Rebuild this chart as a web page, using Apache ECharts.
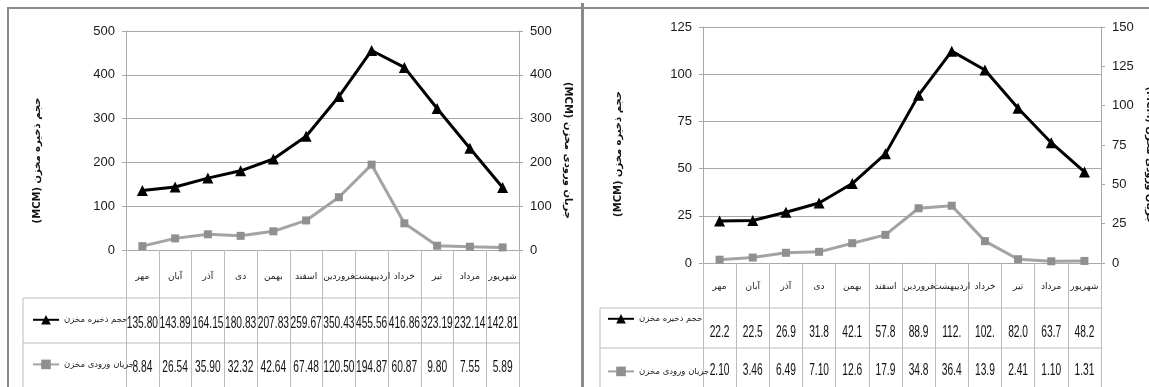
<!DOCTYPE html>
<html>
<head>
<meta charset="utf-8">
<script src="https://cdn.jsdelivr.net/npm/echarts@6/dist/echarts.min.js"></script>
<style>
  html, body { margin: 0; padding: 0; background: #fff; }
  body { width: 1149px; height: 387px; position: relative; overflow: hidden; }
  #left { position: absolute; left: 0; top: 0; width: 583px; height: 387px; }
  #right { position: absolute; left: 583px; top: 0; width: 566px; height: 387px; }
  .rule { position: absolute; background: #8a8a8a; z-index: 5; }
</style>
</head>
<body>
<div id="left"></div>
<div id="right"></div>
<div class="rule" style="left:7px;top:7px;width:1142px;height:2px"></div>
<div class="rule" style="left:7px;top:7px;width:2px;height:380px"></div>
<div class="rule" style="left:581px;top:3px;width:3px;height:384px"></div>
<script>
// ماه‌ها (سال آبی)
const months = ['مهر', 'آبان', 'آذر', 'دی', 'بهمن', 'اسفند', 'فروردین', 'اردیبهشت', 'خرداد', 'تیر', 'مرداد', 'شهریور'];

// نمودار چپ
const storageA = [135.80, 143.89, 164.15, 180.83, 207.83, 259.67, 350.43, 455.56, 416.86, 323.19, 232.14, 142.81];
const inflowA = [8.84, 26.54, 35.90, 32.32, 42.64, 67.48, 120.50, 194.87, 60.87, 9.80, 7.55, 5.89];
const leftAxisA = [0, 500, 100];
const rightAxisA = [0, 500, 100];

// نمودار راست
const storageB = [22.2, 22.5, 26.9, 31.8, 42.1, 57.8, 88.9, 112.2, 102.2, 82.0, 63.7, 48.2];
const inflowB = [2.10, 3.46, 6.49, 7.10, 12.6, 17.9, 34.8, 36.4, 13.9, 2.41, 1.10, 1.31];
const leftAxisB = [0, 125, 25];
const rightAxisB = [0, 150, 25];

const nameStorage = 'حجم ذخیره مخزن';
const nameInflow = 'جریان ورودی مخزن';

const numFont = "'Liberation Sans', sans-serif";
const faFont = "'DejaVu Sans', sans-serif";
const gridColor = '#a8a8a8';
const tableColor = '#bcbcbc';

function makeChart(el, c) {
    let chart = echarts.init(document.getElementById(el));
    const g = Object.assign({ outerBoundsMode: 'none' }, c.grid);
    const bottomY = g.top + g.height;
    const right = g.left + g.width;

    function valueAxis(ax, pos, name, gap, rot, pad, split) {
        return {
            type: 'value', position: pos,
            min: ax[0], max: ax[1], interval: ax[2],
            axisLine: { show: true, lineStyle: { color: gridColor, width: 1 } },
            axisTick: { show: true, length: 4, lineStyle: { color: gridColor } },
            splitLine: { show: split, lineStyle: { color: gridColor, width: 1 } },
            axisLabel: { margin: 11, color: '#1a1a1a', fontFamily: numFont, fontSize: 13 },
            name: '\u202B' + name + ' (MCM)\u202C',
            nameLocation: 'middle', nameGap: gap, nameRotate: rot,
            nameTextStyle: { fontFamily: faFont, fontSize: 10, fontWeight: 'bold', color: '#111', padding: pad }
        };
    }

    // ردیف‌های جدول داده زیر نمودار، با جای افقی از محور دسته‌ها
    function tableRow(values, rowY) {
        return {
            type: 'custom', name: 'row', silent: true, z: 5,
            data: values.map((v, i) => [i, v]),
            renderItem: (params, api) => {
                const x = api.coord([api.value(0), 0])[0];
                return {
                    type: 'text', x: x, y: rowY, scaleX: 0.6,
                    style: {
                        text: c.fmt(api.value(1)), x: 0, y: 0,
                        align: 'center', verticalAlign: 'middle',
                        fontFamily: numFont, fontSize: 17, fill: '#111'
                    }
                };
            }
        };
    }

    chart.setOption({
        animation: false,
        grid: g,
        legend: {
            orient: 'vertical', left: c.legend.left, top: c.legend.top,
            itemGap: c.legend.gap, itemWidth: 26, itemHeight: 12,
            textStyle: { fontFamily: faFont, fontSize: 8.5, color: '#222' },
            data: [nameStorage, nameInflow]
        },
        xAxis: {
            type: 'category', data: months, position: 'bottom', boundaryGap: true,
            axisLine: { show: true, lineStyle: { color: gridColor } },
            axisTick: { show: true, interval: 0, length: 387 - bottomY + 4, lineStyle: { color: tableColor } },
            axisLabel: { interval: 0, margin: c.rows[0], verticalAlign: 'middle', fontFamily: faFont, fontSize: 9, color: '#222' }
        },
        yAxis: [
            valueAxis(c.leftAxis, 'left', nameStorage, c.names[0], 90, c.names[1], true),
            valueAxis(c.rightAxis, 'right', nameInflow, c.names[2], -90, c.names[3], false)
        ],
        graphic: [
            { type: 'line', silent: true, shape: { x1: c.table.left, y1: c.table.lines[0], x2: right, y2: c.table.lines[0] }, style: { stroke: tableColor, lineWidth: 1 } },
            { type: 'line', silent: true, shape: { x1: c.table.left, y1: c.table.lines[1], x2: right, y2: c.table.lines[1] }, style: { stroke: tableColor, lineWidth: 1 } },
            { type: 'line', silent: true, shape: { x1: c.table.left, y1: c.table.lines[0], x2: c.table.left, y2: 390 }, style: { stroke: tableColor, lineWidth: 1 } }
        ],
        series: [
            {
                name: nameStorage, type: 'line', yAxisIndex: 0, data: c.storage,
                symbol: 'triangle', symbolSize: 11,
                itemStyle: { color: '#000' }, lineStyle: { color: '#000', width: 3 }
            },
            {
                name: nameInflow, type: 'line', yAxisIndex: c.inflowAxis, data: c.inflow,
                symbol: 'rect', symbolSize: 8,
                itemStyle: { color: '#8f8f8f' }, lineStyle: { color: '#a3a3a3', width: 3 }
            },
            tableRow(c.storage, bottomY + c.rows[1]),
            tableRow(c.inflow, bottomY + c.rows[2])
        ]
    });
    return chart;
}

makeChart('left', {
    grid: { left: 126, top: 31, width: 393, height: 219 },
    storage: storageA, inflow: inflowA, inflowAxis: 0,
    leftAxis: leftAxisA, rightAxis: rightAxisA,
    fmt: v => v.toFixed(2),
    rows: [27, 73, 117],
    legend: { left: 27, top: 310, gap: 35 },
    table: { left: 23, lines: [298, 343] },
    names: [84, [0, 40, 0, 0], 38, [0, 0, 0, 20]]
});

makeChart('right', {
    grid: { left: 120, top: 27, width: 398, height: 236 },
    storage: storageB, inflow: inflowB, inflowAxis: 1,
    leftAxis: leftAxisB, rightAxis: rightAxisB,
    fmt: v => v.toFixed(2).slice(0, 4),
    rows: [24, 69, 107],
    legend: { left: 19, top: 309, gap: 43 },
    table: { left: 17, lines: [308, 348] },
    names: [80, [0, 18, 0, 0], 44, [0, 0, 0, 20]]
});
</script>
</body>
</html>
